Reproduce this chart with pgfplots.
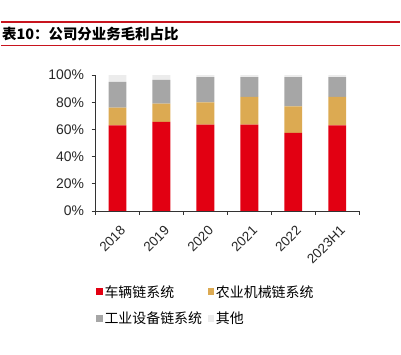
\documentclass[border=0pt]{standalone}
\usepackage{pgfplots}
\pgfplotsset{compat=1.18}
\usepackage{pgfplotstable}
\usepackage{fontspec}
\setmainfont{Liberation Sans}
\newfontfamily\cjk{Noto Sans CJK SC}
\definecolor{cred}{RGB}{226,0,18}
\definecolor{cgold}{RGB}{220,170,82}
\definecolor{cgray}{RGB}{166,166,166}
\definecolor{cother}{RGB}{236,236,236}
\definecolor{cline}{RGB}{200,20,30}
\pgfplotstableread{
x a b c d
0 63.0 13.0 19.0 5.0
1 65.5 13.5 17.5 3.5
2 63.5 16.5 18.5 1.5
3 63.5 20.5 14.5 1.5
4 57.5 19.5 21.5 1.5
5 63.0 21.0 14.5 1.5
}\data
\begin{document}
\begin{tikzpicture}[x=1pt,y=1pt]
\path (0,0) rectangle (401,356);
\draw[cline, line width=2pt] (0,334) -- (401,334);
\draw[cline, line width=1pt] (0,310) -- (401,310);
\node[anchor=west, inner sep=0pt, font=\cjk\bfseries\fontsize{14.5}{16}\selectfont] at (1,322) {表10：公司分业务毛利占比};
\begin{axis}[
  at={(95pt,144pt)}, anchor=south west,
  scale only axis, width=265pt, height=136.5pt,
  ybar stacked, bar width=18pt,
  xmin=-0.5, xmax=5.5, ymin=0, ymax=100,
  axis x line*=bottom, axis y line*=left,
  axis line style={black!80, line width=0.8pt},
  every tick/.style={black!80, line width=0.8pt},
  tick align=outside, major tick length=4pt,
  xtick={-0.5,0.5,...,5.5},
  x tick label as interval,
  xticklabels={2018,2019,2020,2021,2022,2023H1},
  x tick label style={rotate=45, anchor=north east, xshift=-2pt, yshift=-5pt, font=\fontsize{13.5}{15}\selectfont, text=black!85},
  ytick={0,20,...,100},
  yticklabel={\pgfmathprintnumber{\tick}\%},
  y tick label style={xshift=-4pt, font=\fontsize{14}{15}\selectfont, text=black!85},
  /pgf/number format/assume math mode=true,
  legend columns=2,
  legend cell align=left,
  legend image code/.code={\fill[#1] (0pt,-3.5pt) rectangle (7pt,3.5pt);},
  legend style={at={(-0.01,-0.52)}, anchor=north west, draw=none, fill=none,
    font=\cjk\fontsize{14}{16}\selectfont, row sep=10pt,
    /tikz/every even column/.append style={column sep=4pt},
    nodes={inner sep=1.5pt}},
]
\addplot[fill=cred, draw=none] table[x=x, y=a] {\data};
\addplot[fill=cgold, draw=none] table[x=x, y=b] {\data};
\addplot[fill=cgray, draw=none] table[x=x, y=c] {\data};
\addplot[fill=cother, draw=none] table[x=x, y=d] {\data};
\legend{车辆链系统,农业机械链系统,工业设备链系统,其他}
\end{axis}
\end{tikzpicture}
\end{document}
